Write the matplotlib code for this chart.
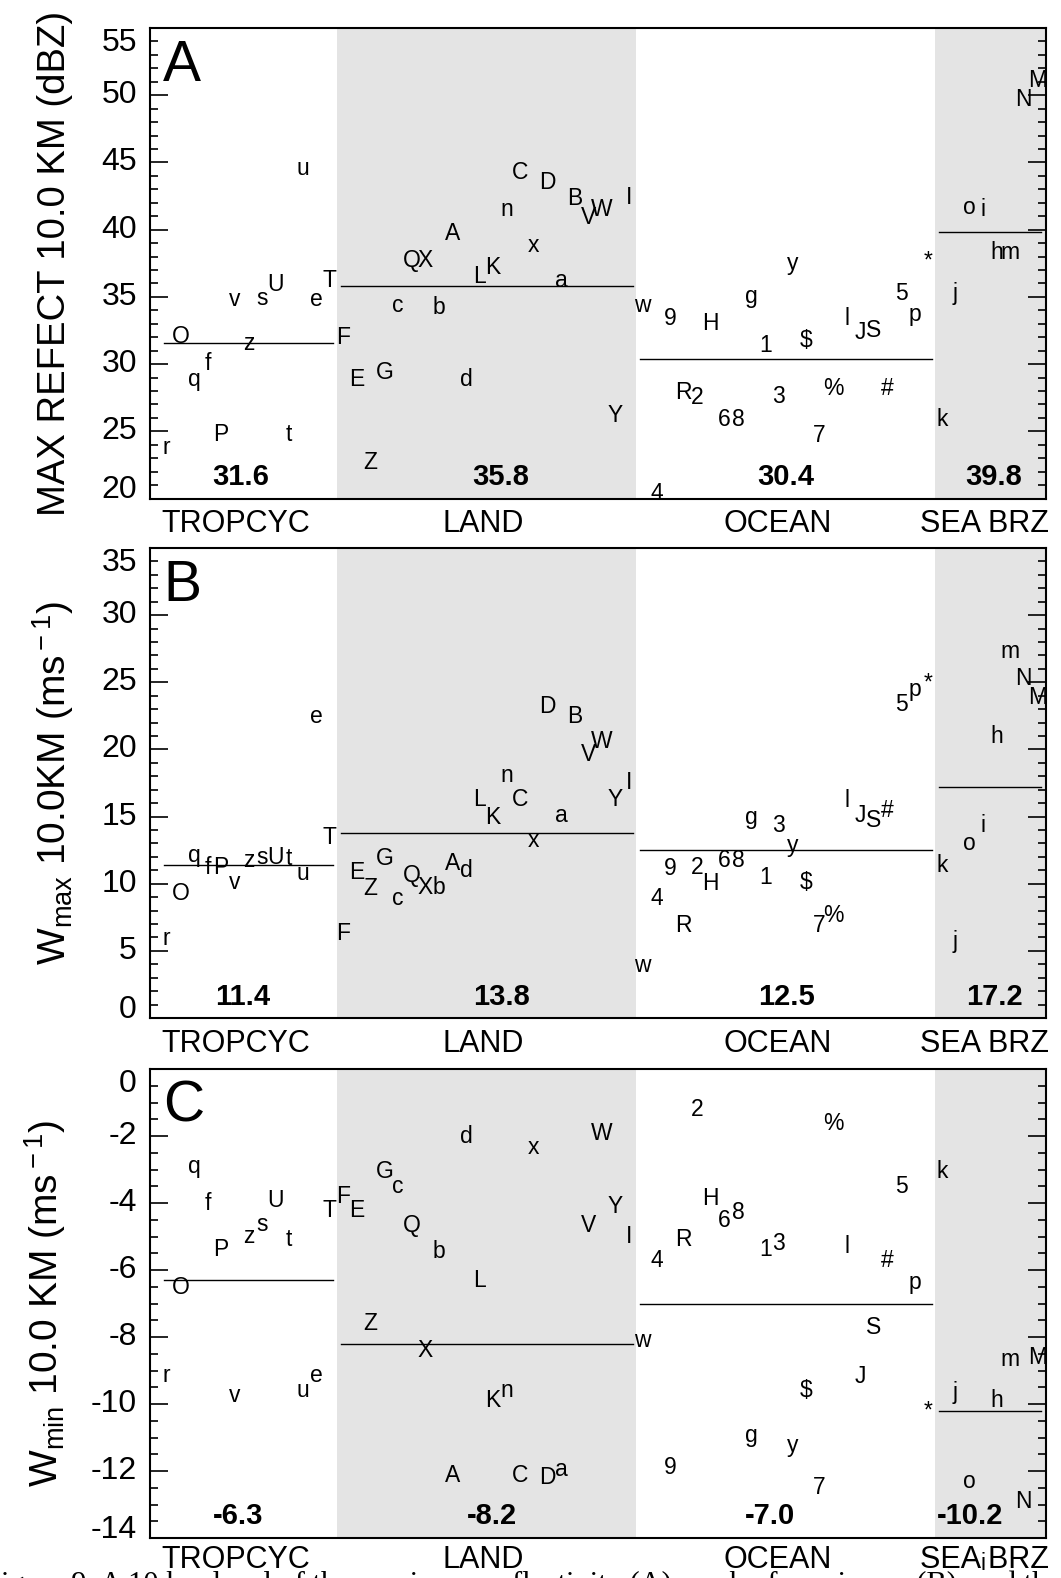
import matplotlib
matplotlib.use("Agg")
import matplotlib.pyplot as plt
import matplotlib.transforms as mtransforms
import numpy as np

plt.rcParams['font.family'] = ['Liberation Sans', 'DejaVu Sans']
plt.rcParams['mathtext.fontset'] = 'custom'
plt.rcParams['mathtext.rm'] = 'Liberation Sans'
plt.rcParams['mathtext.it'] = 'Liberation Sans:italic'
plt.rcParams['mathtext.bf'] = 'Liberation Sans:bold'

# ---------------- data ----------------
groups = ['TROPCYC', 'LAND', 'OCEAN', 'SEA BRZ']

cases_trop = ['r', 'O', 'q', 'f', 'P', 'v', 'z', 's', 'U', 't', 'u', 'e', 'T']
cases_land = ['F', 'E', 'Z', 'G', 'c', 'Q', 'X', 'b', 'A', 'd', 'L', 'K', 'n', 'C',
              'x', 'D', 'a', 'B', 'V', 'W', 'Y', 'I']
cases_ocean = ['w', '4', '9', 'R', '2', 'H', '6', '8', 'g', '1', '3', 'y', '$', '7',
               '%', 'l', 'J', 'S', '#', '5', 'p', '*']
cases_sea = ['k', 'j', 'o', 'i', 'h', 'm', 'N', 'M']

# (A) max reflectivity at 10 km (dBZ)
refl_trop = [23.3, 31.55, 28.4, 29.55, 24.3, 34.3, 31.05, 34.4, 35.4, 24.3, 44.05, 34.3, 35.7]
refl_land = [31.5, 28.4, 22.2, 28.9, 33.9, 37.2, 37.2, 33.7, 39.2, 28.4, 36.05, 36.7, 41.05,
             43.8, 38.3, 43.05, 35.7, 41.8, 40.4, 41.05, 25.7, 41.9]
refl_ocean = [33.9, 19.9, 32.9, 27.4, 27.05, 32.55, 25.4, 25.4, 34.55, 30.9, 27.1, 37.0,
              31.3, 24.2, 27.7, 32.9, 31.9, 32.05, 27.7, 34.8, 33.2, 37.2]
refl_sea = [25.4, 34.8, 41.2, 41.0, 37.8, 37.8, 49.2, 50.6]
refl_means = [31.6, 35.8, 30.4, 39.8]

# (B) Wmax at 10 km (m/s)
wmax_trop = [5.43, 8.77, 11.6, 10.75, 10.75, 9.64, 11.25, 11.5, 11.5, 11.4, 10.25, 22.0, 12.97]
wmax_land = [5.8, 10.38, 9.14, 11.37, 8.4, 10.13, 9.27, 9.27, 11.0, 10.5, 15.81, 14.46, 17.55,
             15.81, 12.73, 22.74, 14.58, 22.0, 19.15, 20.14, 15.81, 17.05]
wmax_ocean = [3.46, 8.4, 10.62, 6.43, 10.75, 9.51, 11.24, 11.24, 14.46, 10.0, 13.84, 12.36,
              9.64, 6.43, 7.17, 15.69, 14.58, 14.21, 14.95, 22.86, 23.97, 24.46]
wmax_sea = [10.87, 5.19, 12.48, 13.84, 20.51, 26.81, 24.83, 23.35]
wmax_means = [11.4, 13.8, 12.5, 17.2]

# (C) Wmin at 10 km (m/s); B is not visible (off the chart)
wmin_trop = [-9.33, -6.72, -3.09, -4.21, -5.59, -9.94, -5.19, -4.83, -4.11, -5.29, -9.79,
             -9.33, -4.42]
wmin_land = [-4.01, -4.42, -7.79, -3.24, -3.70, -4.88, -8.61, -5.65, -12.34, -2.22, -6.51,
             -10.10, -9.79, -12.34, -2.53, -12.40, -12.14, np.nan, -4.88, -2.12, -4.31, -5.19]
wmin_ocean = [-8.30, -5.90, -12.09, -5.29, -1.40, -4.06, -4.72, -4.47, -11.12, -5.59, -5.39,
              -11.42, -9.79, -12.70, -1.81, -5.49, -9.38, -7.90, -5.90, -3.70, -6.57, -10.40]
wmin_sea = [-3.24, -9.84, -12.50, -14.95, -10.10, -8.87, -13.11, -8.82]
wmin_means = [-6.3, -8.2, -7.0, -10.2]

y_ticks_A = [20, 25, 30, 35, 40, 45, 50, 55]
y_ticks_B = [0, 5, 10, 15, 20, 25, 30, 35]
y_ticks_C = [-14, -12, -10, -8, -6, -4, -2, 0]

caption = "igure 9. A 10 km level of the maximum reflectivity (A), peak of maximum (B), and the peak of minimum"

# ---------------- layout ----------------
W, H, DPI = 1061, 1578, 100
fig = plt.figure(figsize=(W / DPI, H / DPI), dpi=DPI)

cases = cases_trop + cases_land + cases_ocean + cases_sea
sizes = [len(cases_trop), len(cases_land), len(cases_ocean), len(cases_sea)]
xpos = np.arange(1, len(cases) + 1)
edges = 0.5 + np.concatenate([[0], np.cumsum(sizes)])
XLIM = (-0.23, 65.65)

left_px, right_px = 150, 1046
panels = [
    dict(top=28, bot=498.5, ylim=(20, 55), ticks=y_ticks_A, minor=1.0,
         vals=refl_trop + refl_land + refl_ocean + refl_sea, means=refl_means,
         mx=[6.46, 25.58, 46.55, 61.83], letter='A', catdy=34,
         ylabel='MAX REFECT 10.0 KM (dBZ)', ylx=55, ylfs=27.5),
    dict(top=548, bot=1018, ylim=(0, 35), ticks=y_ticks_B, minor=1.0,
         vals=wmax_trop + wmax_land + wmax_ocean + wmax_sea, means=wmax_means,
         mx=[6.58, 25.58, 46.57, 61.86], letter='B', catdy=34,
         ylabel=r'W$_{\rm max}$ 10.0KM (ms$^{\rm -1}$)', ylx=53, ylfs=28),
    dict(top=1069, bot=1538, ylim=(-14, 0), ticks=y_ticks_C, minor=0.5,
         vals=wmin_trop + wmin_land + wmin_ocean + wmin_sea, means=wmin_means,
         mx=[6.24, 24.9, 45.36, 60.1], letter='C', catdy=30,
         ylabel=r'W$_{\rm min}$ 10.0 KM (ms$^{\rm -1}$)', ylx=45, ylfs=28),
]
cat_x = [6.1, 24.3, 45.95, 61.1]
shade = '#e4e4e4'

for p in panels:
    hpx = p['bot'] - p['top']
    ax = fig.add_axes([left_px / W, 1 - p['bot'] / H, (right_px - left_px) / W, hpx / H])
    ax.set_xlim(*XLIM)
    ax.set_ylim(*p['ylim'])
    ax.axvspan(edges[1], edges[2], color=shade, lw=0, zorder=0)
    ax.axvspan(edges[3], XLIM[1], color=shade, lw=0, zorder=0)
    for s in ax.spines.values():
        s.set_linewidth(1.5)
    ax.set_xticks([])
    ax.set_yticks(p['ticks'])
    ax.set_yticks(np.arange(p['ylim'][0], p['ylim'][1] + 1e-9, p['minor']), minor=True)
    ax.tick_params(axis='y', which='both', direction='in', left=True, right=True,
                   labelleft=False, width=1.2)
    ax.tick_params(axis='y', which='major', length=13)
    ax.tick_params(axis='y', which='minor', length=5.8)

    # tick labels (IDL-like: end labels kept inside the axis height)
    tx = (137 - left_px) / (right_px - left_px)
    tr_lab = mtransforms.blended_transform_factory(ax.transAxes, ax.transData)
    for i, t in enumerate(p['ticks']):
        va = 'center'
        if i == 0:
            va = 'baseline'
        elif i == len(p['ticks']) - 1:
            va = 'top'
        ax.text(tx, t, f'{t:g}', transform=tr_lab, ha='right', va=va, fontsize=23,
                clip_on=False)

    # case letters
    for xc, v, s in zip(xpos, p['vals'], cases):
        if np.isnan(v):
            continue
        ax.text(xc, v, s, ha='center', va='baseline', fontsize=16.5, clip_on=False)

    # group mean lines and labels
    tr_b = mtransforms.blended_transform_factory(ax.transData, ax.transAxes)
    for g in range(4):
        m = p['means'][g]
        ax.plot([edges[g] + 0.3, edges[g + 1] - 0.25], [m, m], color='k', lw=1.0)
        ax.text(p['mx'][g], 13.5 / hpx, f'{m:.1f}', transform=tr_b, ha='center',
                va='baseline', fontsize=21, fontweight='bold')
        ax.text(cat_x[g], -p['catdy'] / hpx, groups[g], transform=tr_b, ha='center',
                va='baseline', fontsize=22, clip_on=False)

    ax.text(0.0145, 1 - 53 / hpx, p['letter'], transform=ax.transAxes, ha='left',
            va='baseline', fontsize=41)

    fig.text(p['ylx'] / W, 1 - (p['top'] + p['bot']) / 2 / H, p['ylabel'], rotation=90,
             ha='center', va='center', fontsize=p['ylfs'])

fig.text(1 / W, 1 - 1593 / H, caption, ha='left', va='baseline', fontsize=22,
         family=['Liberation Serif', 'DejaVu Serif'])

fig.savefig('out.png', dpi=DPI)
